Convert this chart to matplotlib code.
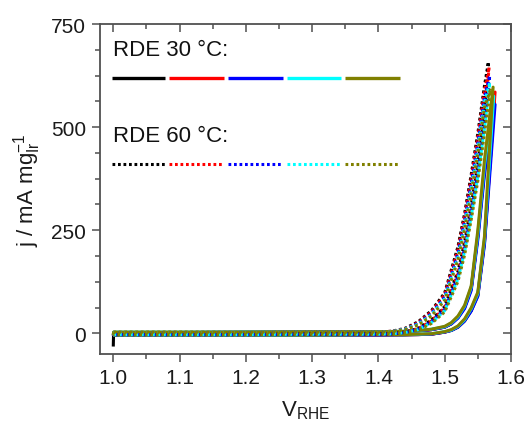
import matplotlib
matplotlib.use("Agg")
import matplotlib.pyplot as plt
from matplotlib.lines import Line2D
from matplotlib.ticker import MultipleLocator

plt.rcParams['font.family'] = ['Liberation Sans', 'DejaVu Sans']
plt.rcParams['mathtext.fontset'] = 'custom'
plt.rcParams['mathtext.rm'] = 'Liberation Sans'
plt.rcParams['mathtext.it'] = 'Liberation Sans:italic'

colors = ['#000000', '#FF0000', '#0000FF', '#00FFFF', '#808000']

# ---- RDE 30 °C (solid) ----
V30 = [1.00, 1.0005, 1.10, 1.20, 1.30, 1.40, 1.44, 1.46, 1.48, 1.50, 1.51, 1.52, 1.53, 1.54, 1.55, 1.56]
j30_fwd = [
    [-32, 2, 2, 2, 3, 3, 4, 6, 9, 15, 23, 38, 62, 108, 235, 395],
    [-6, 2, 2, 3, 3, 3, 4, 6, 9, 15, 24, 39, 64, 110, 238, 400],
    [-5, 2, 2, 3, 3, 3, 4, 6, 9, 15, 23, 37, 60, 104, 228, 385],
    [-5, 3, 3, 3, 3, 4, 5, 7, 10, 16, 25, 40, 66, 112, 242, 408],
    [-4, 3, 3, 3, 4, 4, 5, 7, 10, 17, 26, 42, 68, 115, 250, 420],
]
j30_bwd = [
    [-5, -5, -5, -5, -5, -4, -4, -3, -2, 3, 7, 15, 30, 55, 92, 220],
    [-5, -5, -5, -4, -4, -4, -3, -3, -2, 3, 8, 16, 32, 58, 95, 225],
    [-5, -5, -5, -5, -4, -4, -3, -3, -2, 3, 7, 15, 30, 54, 90, 215],
    [-4, -4, -4, -4, -4, -3, -3, -2, -1, 4, 8, 17, 33, 60, 97, 230],
    [-4, -4, -4, -4, -4, -3, -3, -2, -1, 4, 9, 18, 35, 62, 100, 235],
]
V30_top = [1.575, 1.576, 1.576, 1.574, 1.573]
j30_top = [560, 585, 555, 575, 597]

# ---- RDE 60 °C (dotted) ----
V60 = [1.00, 1.10, 1.20, 1.30, 1.40, 1.42, 1.44, 1.46, 1.48, 1.50, 1.52, 1.53, 1.54, 1.55, 1.56]
j60_fwd = [
    [2, 2, 2, 3, 3, 5, 12, 28, 55, 98, 210, 290, 385, 485, 600],
    [2, 2, 2, 3, 3, 5, 11, 26, 52, 94, 203, 282, 376, 475, 588],
    [2, 2, 2, 3, 3, 4, 10, 24, 48, 88, 193, 270, 362, 460, 572],
    [2, 2, 3, 3, 3, 4, 10, 22, 45, 84, 185, 260, 350, 447, 560],
    [3, 3, 3, 3, 3, 4, 9, 20, 42, 80, 178, 252, 340, 437, 548],
]
j60_bwd = [
    [-3, -3, -3, -2, -2, -1, 3, 12, 32, 65, 150, 220, 310, 410, 530],
    [-3, -3, -3, -2, -2, -1, 3, 11, 30, 62, 145, 213, 302, 400, 520],
    [-3, -3, -3, -2, -2, -1, 2, 10, 28, 58, 138, 205, 292, 390, 508],
    [-3, -3, -3, -2, -2, -1, 2, 9, 26, 55, 132, 198, 284, 380, 496],
    [-3, -3, -3, -2, -2, -1, 2, 8, 24, 52, 126, 190, 276, 370, 485],
]
V60_top = [1.566, 1.567, 1.568, 1.568, 1.569]
j60_top = [658, 645, 625, 608, 590]

xticks = [1.0, 1.1, 1.2, 1.3, 1.4, 1.5, 1.6]
yticks = [0, 250, 500, 750]

fig = plt.figure(figsize=(5.32, 4.35), dpi=100)
ax = fig.add_axes([0.188, 0.184, 0.7725, 0.7585])

dot_style = (0, (0.9, 0.9))

for i, c in enumerate(colors):
    xs = V30 + [V30_top[i]] + V30[::-1]
    ys = j30_fwd[i] + [j30_top[i]] + j30_bwd[i][::-1]
    ax.plot(xs, ys, color=c, lw=2.2, solid_joinstyle='round',
            solid_capstyle='butt', zorder=2)

for i, c in enumerate(colors):
    xs = V60 + [V60_top[i]] + V60[::-1]
    ys = j60_fwd[i] + [j60_top[i]] + j60_bwd[i][::-1]
    ax.plot(xs, ys, color=c, lw=2.2, linestyle=dot_style, zorder=3)

ax.set_xlim(0.98, 1.6)
ax.set_ylim(-50, 750)
ax.set_xticks(xticks)
ax.set_xticklabels([f"{t:.1f}" for t in xticks])
ax.set_yticks(yticks)
ax.xaxis.set_minor_locator(MultipleLocator(0.05))
ax.yaxis.set_minor_locator(MultipleLocator(62.5))

spine_c = '#505050'
for s in ax.spines.values():
    s.set_color(spine_c)
    s.set_linewidth(1.3)

ax.tick_params(which='both', direction='out', color=spine_c, width=1.1,
               labelsize=15, labelcolor='#1a1a1a', top=False, right=False)
ax.tick_params(which='major', length=6, pad=4)
ax.tick_params(which='minor', length=3.5)

secx = ax.secondary_xaxis('top')
secx.set_xticks(xticks)
secx.xaxis.set_minor_locator(MultipleLocator(0.05))
secx.tick_params(which='both', direction='in', color=spine_c, width=1.1, labeltop=False)
secx.tick_params(which='major', length=6)
secx.tick_params(which='minor', length=3.5)
secx.spines['top'].set_visible(False)

secy = ax.secondary_yaxis('right')
secy.set_yticks(yticks)
secy.yaxis.set_minor_locator(MultipleLocator(62.5))
secy.tick_params(which='both', direction='in', color=spine_c, width=1.1, labelright=False)
secy.tick_params(which='major', length=6)
secy.tick_params(which='minor', length=3.5)
secy.spines['right'].set_visible(False)

ax.set_xlabel(r'V$_{\mathrm{RHE}}$', fontsize=16, color='#1a1a1a', labelpad=8)
ax.set_ylabel(r'j / mA mg$_{\mathrm{Ir}}^{-1}$', fontsize=16, color='#1a1a1a', labelpad=6)

# legend-like annotation
ax.text(0.032, 0.924, 'RDE 30 °C:', transform=ax.transAxes, fontsize=16,
        va='center', ha='left', color='#111111')
ax.text(0.032, 0.661, 'RDE 60 °C:', transform=ax.transAxes, fontsize=16,
        va='center', ha='left', color='#111111')
seg_x = [(0.029, 0.158), (0.168, 0.302), (0.311, 0.445), (0.455, 0.586), (0.596, 0.730)]
for (x0, x1), c in zip(seg_x, colors):
    ax.add_line(Line2D([x0, x1], [0.836, 0.836], transform=ax.transAxes,
                       color=c, lw=2.4, solid_capstyle='butt'))
    ax.add_line(Line2D([x0, x1], [0.576, 0.576], transform=ax.transAxes,
                       color=c, lw=2.2, linestyle=dot_style))

fig.savefig('out.png', dpi=100)
